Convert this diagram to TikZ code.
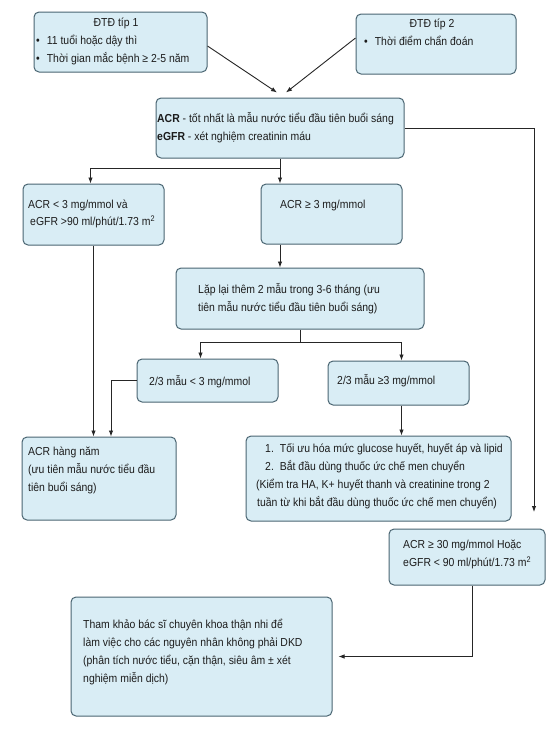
\documentclass[tikz,border=0pt]{standalone}
\usepackage{fontspec}
\setmainfont{Liberation Sans}[FakeStretch=0.9]
\usepackage{tikz}
\usetikzlibrary{arrows.meta}

\definecolor{boxfill}{HTML}{D9EDF5}
\definecolor{boxline}{HTML}{4A6572}
\definecolor{arrline}{HTML}{262626}
\definecolor{txtcol}{HTML}{1C1C1C}

\tikzset{
    box/.style = {draw = boxline, fill = boxfill, line width = 1pt, rounded corners = 5pt, inner sep = 0pt},
    txt/.style = {inner sep = 0pt, anchor = north west, align = left, text = txtcol,
                  font = \fontsize{11.6}{18}\selectfont},
    ttl/.style = {inner sep = 0pt, anchor = center, text = txtcol, font = \fontsize{11.6}{18}\selectfont},
    arr/.style = {draw = arrline, line width = 0.9pt, -{Latex[length=6pt, width=4.5pt]}},
    ln/.style  = {draw = arrline, line width = 0.9pt}
}

\begin{document}
\begin{tikzpicture}[x=1pt, y=-1pt]
    \fill[white] (0, 0) rectangle (556, 729);
    \useasboundingbox (0, 0) rectangle (556, 729);

    % boxes
    \node[box, minimum width=173pt, minimum height=60pt] (tp1) at (120.5, 42) {};
    \node[box, minimum width=160pt, minimum height=60pt] (tp2) at (436, 44) {};
    \node[box, minimum width=248pt, minimum height=60pt] (acr) at (280, 128) {};
    \node[box, minimum width=141pt, minimum height=61pt] (low) at (93.5, 214.5) {};
    \node[box, minimum width=141pt, minimum height=60pt] (high) at (331.5, 214) {};
    \node[box, minimum width=248pt, minimum height=61pt] (rep) at (300, 298.5) {};
    \node[box, minimum width=141pt, minimum height=43pt] (lo) at (207.5, 380.5) {};
    \node[box, minimum width=141pt, minimum height=44pt] (hi) at (398.5, 383) {};
    \node[box, minimum width=154pt, minimum height=83pt] (year) at (99, 478.5) {};
    \node[box, minimum width=265pt, minimum height=85pt] (treat) at (378.5, 478.5) {};
    \node[box, minimum width=156pt, minimum height=56pt] (thirty) at (467, 557) {};
    \node[box, minimum width=261pt, minimum height=119pt] (refer) at (201.5, 656.5) {};

    % texts
    \node[ttl] (tp1t) at (116, 23) {ĐTĐ típ 1};
    \node[txt] (tp1b) at (36, 35) {•\hspace{7pt}11 tuổi hoặc dậy thì\\
        •\hspace{7pt}Thời gian mắc bệnh ≥ 2-5 năm};
    \node[ttl] (tp2t) at (432, 24) {ĐTĐ típ 2};
    \node[txt] (tp2b) at (364, 36) {•\hspace{7pt}Thời điểm chẩn đoán};
    \node[txt] (acrt) at (157, 112) {\textbf{ACR} - tốt nhất là mẫu nước tiểu đầu tiên buổi sáng\\
        \textbf{eGFR} - xét nghiệm creatinin máu};
    \node[txt, font=\fontsize{11.6}{17}\selectfont] (lowt) at (28, 200) {ACR < 3 mg/mmol và\\
        \hspace{2pt}eGFR >90 ml/phút/1.73 m\textsuperscript{2}};
    \node[txt] (hight) at (280, 200) {ACR ≥ 3 mg/mmol};
    \node[txt] (rept) at (198, 283) {Lặp lại thêm 2 mẫu trong 3-6 tháng (ưu\\
        tiên mẫu nước tiểu đầu tiên buổi sáng)};
    \node[txt] (lot) at (149, 375) {2/3 mẫu < 3 mg/mmol};
    \node[txt] (hit) at (337, 374) {2/3 mẫu ≥3 mg/mmol};
    \node[txt] (yeart) at (28, 447) {ACR hàng năm\\
        (ưu tiên mẫu nước tiểu đầu\\
        tiên buổi sáng)};
    \node[txt] (treatt) at (256, 443) {\hspace*{9pt}1.\hspace{6pt}Tối ưu hóa mức glucose huyết, huyết áp và lipid\\
        \hspace*{9pt}2.\hspace{6pt}Bắt đầu dùng thuốc ức chế men chuyển\\
        (Kiểm tra HA, K+ huyết thanh và creatinine trong 2\\
        \hspace*{1pt}tuần từ khi bắt đầu dùng thuốc ức chế men chuyển)};
    \node[txt] (thirtyt) at (403, 540) {ACR ≥ 30 mg/mmol Hoặc\\
        eGFR < 90 ml/phút/1.73 m\textsuperscript{2}};
    \node[txt] (refert) at (83, 619) {Tham khảo bác sĩ chuyên khoa thận nhi để\\
        làm việc cho các nguyên nhân không phải DKD\\
        (phân tích nước tiểu, cặn thận, siêu âm ± xét\\
        nghiệm miễn dịch)};

    % connectors
    \draw[arr] ([yshift=-4pt]tp1.east) -- ([xshift=-3pt, yshift=5pt]acr.north);
    \draw[arr] ([yshift=6pt]tp2.west) -- ([xshift=6pt, yshift=5pt]acr.north);

    \coordinate (rtend) at (534, 512);
    \draw[arr] (acr.east) -| (rtend);

    \draw[ln] (acr.south) -- ++(0, 10) coordinate (split1);
    \draw[arr] (split1) -| ([xshift=-3pt]low.north);
    \draw[arr] (split1) -- (split1 |- high.north);
    \draw[arr] (split1 |- high.south) -- (split1 |- rep.north);

    \draw[ln] (rep.south) -- ++(0, 13) coordinate (split2);
    \draw[arr] (split2) -| ([xshift=-7pt]lo.north);
    \draw[arr] (split2) -| ([xshift=3pt]hi.north);

    \draw[arr] (low.south) -- (low.south |- year.north);
    \coordinate (bend) at (111, 0);
    \draw[arr] (lo.west) -| (bend |- year.north);
    \draw[arr] ([xshift=3pt]hi.south) -- ([xshift=3pt]hi.south |- treat.north);

    \draw[arr, shorten >=6pt] ([xshift=5pt]thirty.south) |- (refer.east);
\end{tikzpicture}
\end{document}
